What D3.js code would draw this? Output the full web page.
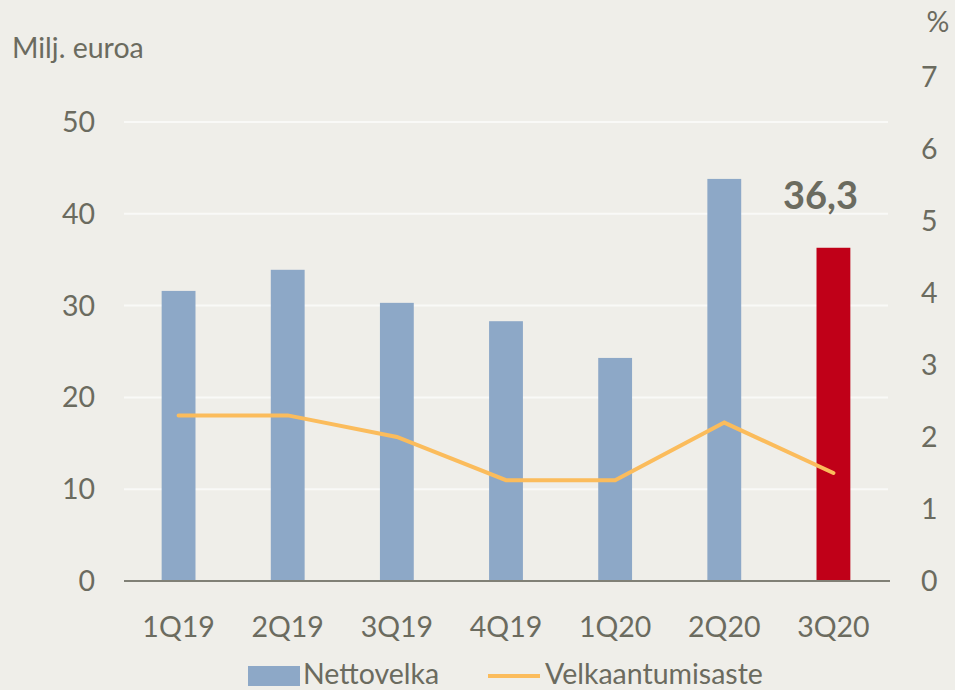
<!DOCTYPE html>
<html>
<head>
<meta charset="utf-8">
<script src="https://cdn.jsdelivr.net/npm/d3@7"></script>
<style>
  body { margin: 0; background: #efeee9; }
  svg text { font-family: Lato, "Open Sans", sans-serif; fill: #6b6b5f; }
</style>
</head>
<body>
<div id="chart"></div>
<script>
const quarters = ['1Q19', '2Q19', '3Q19', '4Q19', '1Q20', '2Q20', '3Q20'];
const nettovelka = [31.6, 33.9, 30.3, 28.3, 24.3, 43.8, 36.3];
const velkaantumisaste = [2.3, 2.3, 2.0, 1.4, 1.4, 2.2, 1.5];
const leftTicks = [0, 10, 20, 30, 40, 50];
const rightTicks = [0, 1, 2, 3, 4, 5, 6, 7];

const chartWidth = 955;
const chartHeight = 690;
const left = 124, right = 888, bottom = 581;
const fontSize = '28.5px';

const xScale = d3.scaleBand()
  .domain(quarters)
  .range([left, right])
  .paddingInner(0.69)
  .paddingOuter(0.345);

const yScale = d3.scaleLinear()
  .domain([0, 50])
  .range([bottom, 122]);

const y2Scale = d3.scaleLinear()
  .domain([0, 7])
  .range([bottom, 77]);

const chart = d3.select('#chart')
  .append('svg')
  .attr('width', chartWidth)
  .attr('height', chartHeight);

chart.append('rect')
  .attr('width', chartWidth)
  .attr('height', chartHeight)
  .attr('fill', '#efeee9');

//Gridlines
chart.append('g')
  .selectAll('line')
  .data(leftTicks.slice(1))
  .enter()
  .append('line')
  .attr('x1', left)
  .attr('x2', right)
  .attr('y1', d => yScale(d))
  .attr('y2', d => yScale(d))
  .attr('stroke', '#f9f9f7')
  .attr('stroke-width', 2);

//Bars
chart.append('g')
  .selectAll('rect')
  .data(quarters)
  .enter()
  .append('rect')
  .attr('x', d => xScale(d))
  .attr('width', xScale.bandwidth())
  .attr('y', (d, i) => yScale(nettovelka[i]))
  .attr('height', (d, i) => bottom - yScale(nettovelka[i]))
  .attr('fill', (d, i) => i === quarters.length - 1 ? '#c00018' : '#8da8c7');

//Bottom axis line
chart.append('line')
  .attr('x1', left)
  .attr('x2', right + 2)
  .attr('y1', bottom)
  .attr('y2', bottom)
  .attr('stroke', '#808076')
  .attr('stroke-width', 2);

//Line
const line = d3.line()
  .x((d, i) => xScale(quarters[i]) + xScale.bandwidth() / 2)
  .y(d => y2Scale(d));

chart.append('path')
  .datum(velkaantumisaste)
  .attr('d', line)
  .attr('fill', 'none')
  .attr('stroke', '#fbbc5c')
  .attr('stroke-width', 4)
  .attr('stroke-linecap', 'round');

//Axis labels
chart.append('g')
  .selectAll('text')
  .data(leftTicks)
  .enter()
  .append('text')
  .text(d => d)
  .attr('x', 95)
  .attr('y', d => yScale(d))
  .attr('dy', '0.35em')
  .attr('text-anchor', 'end')
  .style('font-size', fontSize);

chart.append('g')
  .selectAll('text')
  .data(rightTicks)
  .enter()
  .append('text')
  .text(d => d)
  .attr('x', 921)
  .attr('y', d => y2Scale(d))
  .attr('dy', '0.35em')
  .style('font-size', fontSize);

chart.append('g')
  .selectAll('text')
  .data(quarters)
  .enter()
  .append('text')
  .text(d => d)
  .attr('x', d => xScale(d) + xScale.bandwidth() / 2)
  .attr('y', 627)
  .attr('dy', '0.35em')
  .attr('text-anchor', 'middle')
  .style('font-size', fontSize);

chart.append('text')
  .text('Milj. euroa')
  .attr('x', 12)
  .attr('y', 48)
  .attr('dy', '0.35em')
  .style('font-size', fontSize);

chart.append('text')
  .text('%')
  .attr('x', 938)
  .attr('y', 22)
  .attr('dy', '0.35em')
  .attr('text-anchor', 'middle')
  .style('font-size', fontSize);

//Value label
const last = quarters.length - 1;
chart.append('text')
  .text(String(nettovelka[last]).replace('.', ','))
  .attr('x', xScale(quarters[last]) + xScale.bandwidth() / 2 - 13)
  .attr('y', 196)
  .attr('dy', '0.35em')
  .attr('text-anchor', 'middle')
  .style('font-size', '38px')
  .style('font-weight', 'bold');

//Legend
const legend = chart.append('g');
legend.append('rect')
  .attr('x', 248)
  .attr('y', 666)
  .attr('width', 52)
  .attr('height', 20)
  .attr('fill', '#8da8c7');
legend.append('text')
  .text('Nettovelka')
  .attr('x', 303)
  .attr('y', 674)
  .attr('dy', '0.35em')
  .style('font-size', fontSize);
legend.append('line')
  .attr('x1', 488)
  .attr('x2', 540)
  .attr('y1', 676)
  .attr('y2', 676)
  .attr('stroke', '#fbbc5c')
  .attr('stroke-width', 4);
legend.append('text')
  .text('Velkaantumisaste')
  .attr('x', 545)
  .attr('y', 674)
  .attr('dy', '0.35em')
  .style('font-size', fontSize);
</script>
</body>
</html>
